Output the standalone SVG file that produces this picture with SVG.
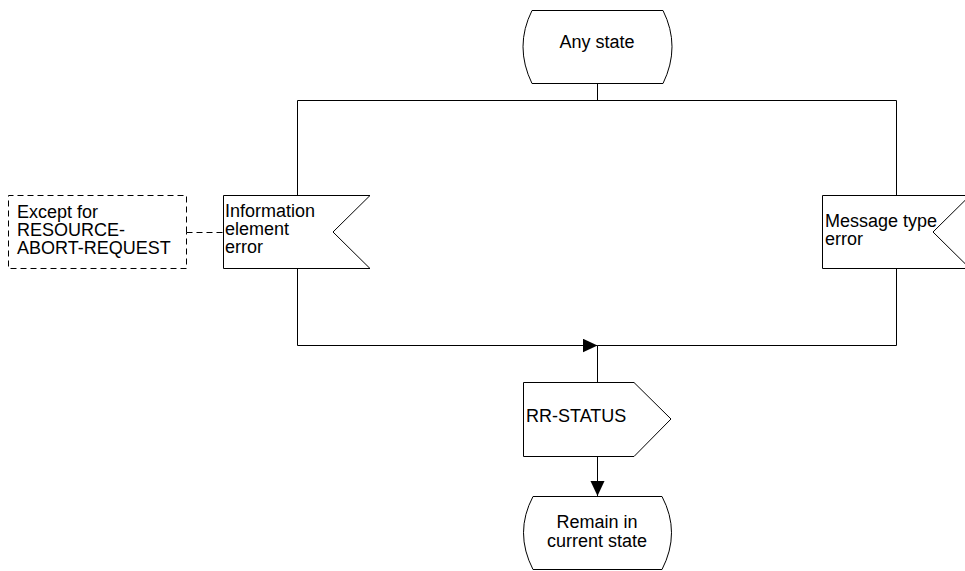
<svg xmlns="http://www.w3.org/2000/svg" width="965" height="571" viewBox="0 0 965 571">
<style>
.s{fill:#fff;stroke:#000;stroke-width:1}
.l{fill:none;stroke:#000;stroke-width:1}
.d{fill:none;stroke:#000;stroke-width:1;stroke-dasharray:6,4}
text{font-family:"Liberation Sans",Arial,sans-serif;font-size:18px;fill:#000}
.c{text-anchor:middle}
</style>
<defs>
<marker id="ah" markerWidth="16" markerHeight="16" refX="15" refY="7" orient="auto" markerUnits="userSpaceOnUse">
<path d="M0,0 L15,7 L0,14 Z" fill="#000"/>
</marker>
</defs>
<rect width="965" height="571" fill="#fff"/>
<g id="connectors">
<path class="l" d="M597.5,83 V100.5 M297.5,100.5 H896.5 M297.5,100.5 V195 M896.5,100.5 V195"/>
<path class="l" d="M297.5,268 V345.5 M896.5,268 V345.5 H597.5"/>
<path class="l" d="M297.5,345.5 H597.5" marker-end="url(#ah)"/>
<path class="l" d="M597.5,345.5 V382"/>
<path class="l" d="M597.5,456 V496" marker-end="url(#ah)"/>
<path class="d" d="M186.5,232.5 H223"/>
</g>
<g id="any-state">
<path class="s" d="M532,10.5 L663,10.5 Q681,46.5 663,83.5 L532,83.5 Q514,46.5 532,10.5 Z"/>
<text class="c" x="597" y="48">Any state</text>
</g>
<g id="comment">
<path class="d" d="M186.5,232.5 V195.5 H8.5 V268.5 H186.5 V232.5"/>
<text x="17" y="218">Except for<tspan x="17" dy="18">RESOURCE-</tspan><tspan x="17" dy="18">ABORT-REQUEST</tspan></text>
</g>
<g id="info-element-error">
<path class="s" d="M223.5,195.5 H370 L333,232 L370,268.5 H223.5 Z"/>
<text x="225" y="217">Information<tspan x="225" dy="18">element</tspan><tspan x="225" dy="18">error</tspan></text>
</g>
<g id="message-type-error">
<path class="s" d="M822.5,195.5 H970 L933,232 L970,268.5 H822.5 Z"/>
<text x="825" y="227">Message type<tspan x="825" dy="18">error</tspan></text>
</g>
<g id="rr-status">
<path class="s" d="M523.5,382.5 H634 L671,419 L634,456.5 H523.5 Z"/>
<text x="526" y="422">RR-STATUS</text>
</g>
<g id="remain">
<path class="s" d="M533,496.5 L662,496.5 Q681,532.5 662,569.5 L533,569.5 Q514,532.5 533,496.5 Z"/>
<text class="c" x="597" y="528">Remain in<tspan x="597" dy="19">current state</tspan></text>
</g>
</svg>
